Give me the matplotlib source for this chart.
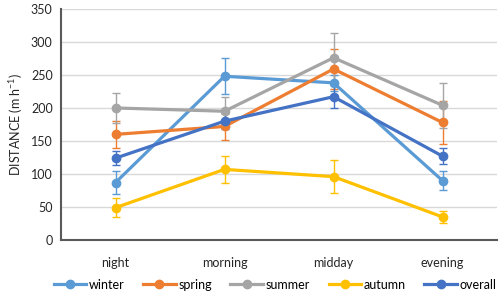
import matplotlib.pyplot as plt

plt.rcParams["font.family"] = ["Lato", "DejaVu Sans"]
plt.rcParams["mathtext.fontset"] = "custom"
plt.rcParams["mathtext.rm"] = "Lato"
plt.rcParams["mathtext.it"] = "Lato"

periods = ["night", "morning", "midday", "evening"]
series = ["winter", "spring", "summer", "autumn", "overall"]
colors = ["#5B9BD5", "#ED7D31", "#A5A5A5", "#FFC000", "#4472C4"]

winter = [87, 248, 238, 90]
winter_err = [18, 27, 12, 14]
spring = [160, 172, 259, 178]
spring_err = [21, 20, 31, 33]
summer = [200, 195, 276, 204]
summer_err = [23, 22, 37, 34]
autumn = [49, 107, 96, 35]
autumn_err = [14, 21, 25, 9]
overall = [124, 180, 217, 127]
overall_err = [11, 12, 17, 12]

values = [winter, spring, summer, autumn, overall]
errors = [winter_err, spring_err, summer_err, autumn_err, overall_err]

fig = plt.figure(figsize=(5, 2.96), dpi=100)
ax = fig.add_axes([0.122, 0.189, 0.872, 0.781])

x = range(len(periods))
for name, vals, errs, c in zip(series, values, errors, colors):
    ax.errorbar(x, vals, yerr=errs, color=c, lw=2.3, marker="o", ms=6,
                elinewidth=1, capsize=3, capthick=1, label=name)

ax.set_xlim(-0.5, 3.5)
ax.set_ylim(0, 350)
ax.set_yticks(range(0, 351, 50))
ax.set_xticks(list(x))
ax.set_xticklabels(periods)
ax.yaxis.grid(True, color="#D9D9D9", lw=1)
ax.set_axisbelow(True)
ax.tick_params(length=0, labelsize=9, colors="#262626", pad=6)
ax.tick_params(axis="x", pad=12)
for s in ["top", "right"]:
    ax.spines[s].set_visible(False)
ax.spines["left"].set_color("#595959")
ax.spines["bottom"].set_color("#595959")
ax.spines["left"].set_linewidth(1.5)
ax.spines["bottom"].set_linewidth(1.5)
ax.set_ylabel("DISTANCE (m h$^{-1}$)", fontsize=9, color="#262626")

handles, labels = ax.get_legend_handles_labels()
handles = [h[0] for h in handles]
fig.legend(handles, labels, loc="lower center", ncol=5, frameon=False,
           fontsize=9, bbox_to_anchor=(0.55, -0.02), handlelength=2.6,
           handletextpad=0.2, columnspacing=1.5)

plt.savefig("out.png", dpi=100)
